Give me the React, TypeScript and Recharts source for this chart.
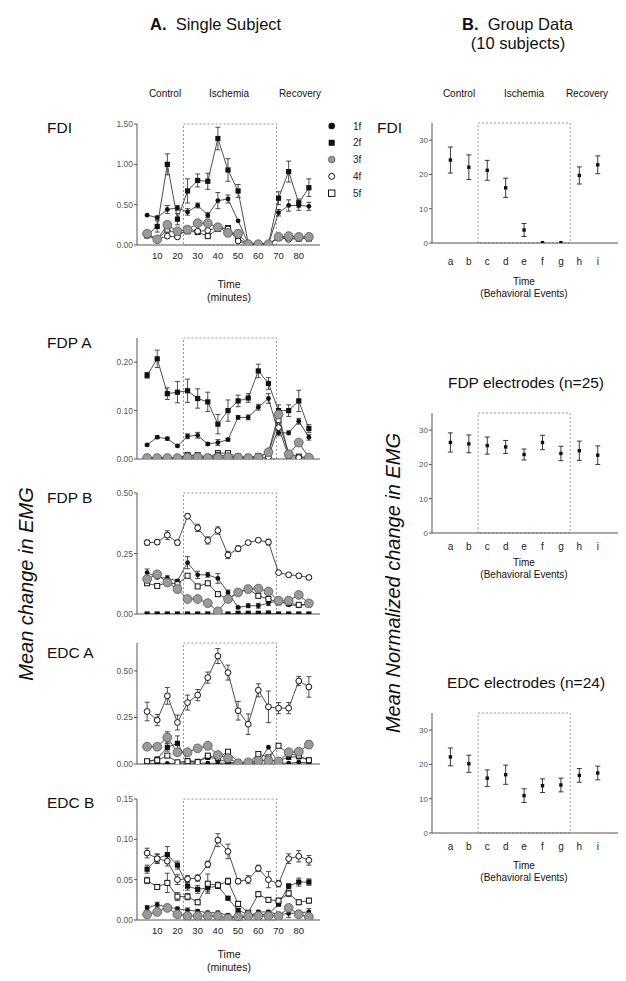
import { LineChart, Line, XAxis, YAxis, ReferenceArea, ErrorBar } from 'recharts'

const FONT = 'Arial, "Liberation Sans", Helvetica, sans-serif'

// time points (minutes) of the single subject panels
const TIMES = [5, 10, 15, 20, 25, 30, 35, 40, 45, 50, 55, 60, 65, 70, 75, 80, 85]
const TIME_TICKS = [10, 20, 30, 40, 50, 60, 70, 80]

// FDI
const fdi1 = [0.37, 0.34, 0.44, 0.46, 0.41, 0.49, 0.37, 0.55, 0.57, 0.3, 0.02, 0.01, 0.01, 0.4, 0.49, 0.49, 0.48]
const fdiErr1 = [0, 0.02, 0.05, 0.03, 0.04, 0.03, 0.03, 0.1, 0.05, 0, 0, 0, 0, 0.04, 0.07, 0.06, 0.05]
const fdi2 = [0.12, 0.23, 1.0, 0.32, 0.67, 0.8, 0.79, 1.32, 0.93, 0.67, 0.02, 0.01, 0.01, 0.58, 0.91, 0.52, 0.71]
const fdiErr2 = [0.02, 0.07, 0.13, 0.07, 0.15, 0.08, 0.1, 0.14, 0.14, 0.08, 0, 0, 0, 0.08, 0.13, 0.05, 0.11]
const fdi3 = [0.14, 0.07, 0.25, 0.17, 0.19, 0.27, 0.27, 0.22, 0.15, 0.14, 0.01, 0.01, 0.01, 0.1, 0.11, 0.1, 0.1]
const fdi4 = [0.12, 0.07, 0.11, 0.1, 0.2, 0.17, 0.18, 0.22, 0.2, 0.05, 0.01, 0.01, 0.01, 0.09, 0.07, 0.08, 0.09]
const fdi5 = [0.12, 0.07, 0.19, 0.14, 0.17, 0.16, 0.11, 0.2, 0.21, 0.08, 0.01, 0.01, 0.01, 0.09, 0.09, 0.08, 0.08]

// FDP A
const fdpA1 = [0.029, 0.045, 0.042, 0.027, 0.047, 0.049, 0.031, 0.034, 0.04, 0.086, 0.086, 0.107, 0.125, 0.054, 0.054, 0.078, 0.045]
const fdpAErr1 = [0.002, 0.003, 0.003, 0.002, 0.005, 0.006, 0.003, 0.006, 0.003, 0.004, 0.005, 0.006, 0.01, 0.006, 0.004, 0.006, 0.006]
const fdpA2 = [0.173, 0.207, 0.135, 0.138, 0.141, 0.125, 0.118, 0.072, 0.1, 0.12, 0.126, 0.182, 0.156, 0.1, 0.1, 0.12, 0.063]
const fdpAErr2 = [0.006, 0.018, 0.012, 0.022, 0.024, 0.02, 0.02, 0.02, 0.022, 0.012, 0.009, 0.014, 0.012, 0.012, 0.012, 0.022, 0.008]
const fdpA3 = [0.002, 0.002, 0.002, 0.002, 0.003, 0.004, 0.002, 0.003, 0.004, 0.003, 0.002, 0.003, 0.014, 0.092, 0.01, 0.034, 0.003]
const fdpA4 = [0.002, 0.002, 0.002, 0.002, 0.008, 0.005, 0.003, 0.008, 0.006, 0.004, 0.003, 0.003, 0.004, 0.065, 0.005, 0.003, 0.002]
const fdpA5 = [0.002, 0.002, 0.002, 0.002, 0.008, 0.008, 0.004, 0.012, 0.012, 0.005, 0.004, 0.006, 0.012, 0.08, 0.01, 0.005, 0.003]

// FDP B
const fdpB1 = [0.171, 0.151, 0.148, 0.137, 0.212, 0.162, 0.162, 0.147, 0.089, 0.027, 0.034, 0.034, 0.045, 0.055, 0.038, 0.034, 0.041]
const fdpBErr1 = [0.015, 0.005, 0.01, 0.005, 0.025, 0.015, 0.01, 0.02, 0.01, 0.005, 0.008, 0.01, 0.01, 0.01, 0.005, 0.005, 0.005]
const fdpB2 = [0, 0, 0, 0, 0, 0, 0, 0, 0, 0.003, 0.003, 0.003, 0.004, 0, 0, 0, 0]
const fdpB3 = [0.144, 0.164, 0.13, 0.103, 0.062, 0.062, 0.045, 0.011, 0.062, 0.089, 0.103, 0.105, 0.093, 0.055, 0.055, 0.079, 0.044]
const fdpB4 = [0.295, 0.297, 0.326, 0.295, 0.404, 0.356, 0.304, 0.345, 0.244, 0.27, 0.295, 0.305, 0.297, 0.171, 0.162, 0.158, 0.151]
const fdpBErr4 = [0.01, 0.01, 0.018, 0.01, 0.01, 0.015, 0.015, 0.015, 0.015, 0.012, 0.005, 0.005, 0.012, 0.005, 0.005, 0.005, 0.008]
const fdpB5 = [0.127, 0.116, 0.13, 0.123, 0.158, 0.114, 0.127, 0.082, 0.062, 0.089, 0.103, 0.075, 0.062, 0.048, 0.045, 0.038, 0.041]

// EDC A
const edcA1 = [0.004, 0.003, 0.003, 0.004, 0.006, 0.005, 0.004, 0.004, 0.005, 0.005, 0.004, 0.005, 0.09, 0.005, 0.004, 0.01, 0.005]
const edcA2 = [0.012, 0.027, 0.089, 0.111, 0.018, 0.014, 0.036, 0.027, 0.009, 0.004, 0.004, 0.018, 0.02, 0.018, 0.036, 0.039, 0.021]
const edcAErr2 = [0.005, 0.005, 0.02, 0.04, 0.005, 0.005, 0.01, 0.01, 0.005, 0, 0, 0.005, 0.01, 0.005, 0.01, 0.01, 0.005]
const edcA3 = [0.093, 0.093, 0.143, 0.063, 0.063, 0.084, 0.098, 0.048, 0.032, 0.004, 0.009, 0.018, 0.018, 0.014, 0.063, 0.066, 0.104]
const edcAErr3 = [0.005, 0.005, 0.03, 0.01, 0.005, 0.005, 0.01, 0.005, 0.005, 0, 0, 0, 0, 0, 0.01, 0.01, 0.02]
const edcA4 = [0.282, 0.236, 0.366, 0.223, 0.33, 0.37, 0.464, 0.58, 0.491, 0.286, 0.214, 0.396, 0.307, 0.3, 0.3, 0.446, 0.414]
const edcAErr4 = [0.05, 0.03, 0.045, 0.04, 0.04, 0.03, 0.03, 0.04, 0.04, 0.05, 0.055, 0.035, 0.085, 0.03, 0.03, 0.025, 0.055]
const edcA5 = [0.015, 0.02, 0.045, 0.009, 0.015, 0.01, 0.045, 0.032, 0.066, 0.01, 0.005, 0.054, 0.036, 0.098, 0.054, 0.045, 0.02]

// EDC B
const edcB1 = [0.015, 0.019, 0.016, 0.014, 0.012, 0.011, 0.009, 0.009, 0.006, 0.002, 0.004, 0.01, 0.01, 0.007, 0.008, 0.009, 0.01]
const edcBErr1 = [0.003, 0.003, 0.003, 0.002, 0.003, 0.002, 0.002, 0.002, 0.002, 0.002, 0.002, 0.002, 0.002, 0.002, 0.005, 0.003, 0.004]
const edcB2 = [0.063, 0.076, 0.081, 0.068, 0.042, 0.038, 0.04, 0.042, 0.027, 0.012, 0.007, 0.007, 0.007, 0.02, 0.042, 0.047, 0.047]
const edcBErr2 = [0.005, 0.005, 0.01, 0.005, 0.005, 0.005, 0.005, 0.003, 0.002, 0.002, 0.002, 0.002, 0.002, 0.003, 0.003, 0.005, 0.004]
const edcB3 = [0.007, 0.01, 0.015, 0.007, 0.005, 0.005, 0.005, 0.005, 0.002, 0.004, 0.005, 0.005, 0.005, 0.005, 0.015, 0.007, 0.004]
const edcB4 = [0.083, 0.076, 0.073, 0.05, 0.051, 0.052, 0.069, 0.099, 0.085, 0.048, 0.05, 0.064, 0.05, 0.045, 0.076, 0.079, 0.074]
const edcBErr4 = [0.006, 0.006, 0.006, 0.006, 0.004, 0.004, 0.004, 0.008, 0.009, 0.003, 0.005, 0.004, 0.01, 0.004, 0.006, 0.007, 0.006]
const edcB5 = [0.049, 0.041, 0.046, 0.029, 0.029, 0.022, 0.045, 0.043, 0.048, 0.02, 0.009, 0.032, 0.025, 0.024, 0.033, 0.022, 0.024]
const edcBErr5 = [0.004, 0.003, 0.012, 0.005, 0.004, 0.003, 0.012, 0.004, 0.004, 0.003, 0.002, 0.003, 0.003, 0.003, 0.004, 0.003, 0.003]

// group data (behavioral events a-i)
const EVENTS = ['a', 'b', 'c', 'd', 'e', 'f', 'g', 'h', 'i']
const fdiGroup = [24.2, 22.1, 21.2, 16.1, 3.8, 0.1, 0.1, 19.7, 22.8]
const fdiGroupErr = [3.8, 3.6, 2.9, 2.8, 1.9, 0, 0, 2.5, 2.6]
const fdpGroup = [26.4, 26.0, 25.5, 25.1, 22.9, 26.4, 23.2, 24.0, 22.7]
const fdpGroupErr = [2.8, 2.6, 2.5, 1.9, 1.6, 2.1, 2.1, 2.8, 2.7]
const edcGroup = [22.2, 20.2, 16.0, 17.0, 10.9, 13.8, 14.0, 16.8, 17.5]
const edcGroupErr = [2.6, 2.5, 2.4, 2.8, 2.0, 2.0, 2.0, 2.0, 2.0]

const LINE = '#3a3a3a'
const AXIS = '#555'

const Mark = ({ kind, cx, cy, legend }: any) => {
  if (cx == null || cy == null) return null
  if (legend) {
    if (kind === 'c') return <circle cx={cx} cy={cy} r={3.3} fill="#111" />
    if (kind === 's') return <rect x={cx - 3} y={cy - 3} width={6} height={6} fill="#111" />
    if (kind === 'g') return <circle cx={cx} cy={cy} r={3.3} fill="#9a9a9a" stroke="#555" strokeWidth={0.8} />
    if (kind === 'o') return <circle cx={cx} cy={cy} r={3} fill="#fff" stroke="#111" strokeWidth={1} />
    return <rect x={cx - 3.2} y={cy - 3.2} width={6.4} height={6.4} fill="#fff" stroke="#111" strokeWidth={1} />
  }
  if (kind === 'c') return <circle cx={cx} cy={cy} r={2.4} fill="#111" />
  if (kind === 's') return <rect x={cx - 2.6} y={cy - 2.6} width={5.2} height={5.2} fill="#111" />
  if (kind === 'g') return <circle cx={cx} cy={cy} r={4.4} fill="#9a9a9a" stroke="#555" strokeWidth={0.8} />
  if (kind === 'o') return <circle cx={cx} cy={cy} r={2.9} fill="#fff" stroke="#111" strokeWidth={1} />
  return <rect x={cx - 2.5} y={cy - 2.5} width={5} height={5} fill="#fff" stroke="#111" strokeWidth={1} />
}

const dotOf = (kind: string) => (p: any) => <Mark key={kind + p.index} kind={kind} cx={p.cx} cy={p.cy} />

type Series = { key: string; kind: string; vals: number[]; errs?: number[] }

function Panel({ top, ymax, yticks, series, showX }: { top: number; ymax: number; yticks: number[]; series: Series[]; showX?: boolean }) {
  const rows = TIMES.map((t, i) => {
    const r: any = { t }
    series.forEach((s) => {
      r[s.key] = s.vals[i]
      if (s.errs) r[s.key + 'e'] = s.errs[i]
    })
    return r
  })
  return (
    <div style={{ position: 'absolute', left: 97.2, top: top - 6 }}>
      <LineChart width={228} height={157} data={rows} margin={{ top: 6, right: 5, bottom: 0, left: 0 }}>
        <XAxis
          type="number"
          dataKey="t"
          domain={[0, 90.5]}
          allowDataOverflow
          ticks={TIME_TICKS}
          tickLine={false}
          tickSize={5}
          tickMargin={2}
          height={30}
          stroke={AXIS}
          tick={showX ? { fontSize: 9.5, fill: '#222', fontFamily: FONT } : false}
        />
        <YAxis
          type="number"
          domain={[0, ymax]}
          allowDataOverflow
          ticks={yticks}
          width={40}
          tickSize={3}
          tickMargin={1}
          stroke={AXIS}
          tickFormatter={(v: number) => v.toFixed(2)}
          tick={{ fontSize: 8.5, fill: '#555', fontFamily: FONT }}
        />
        <ReferenceArea x1={23} x2={69} y1={0} y2={ymax} fill="none" stroke="#8a8a8a" strokeDasharray="2 2" strokeWidth={0.9} />
        {series.map((s) => (
          <Line
            key={s.key}
            type="linear"
            dataKey={s.key}
            stroke={LINE}
            strokeWidth={0.9}
            dot={dotOf(s.kind)}
            activeDot={false}
            isAnimationActive={false}
          >
            {s.errs ? <ErrorBar dataKey={s.key + 'e'} width={2.5} stroke="#222" strokeWidth={0.8} direction="y" /> : null}
          </Line>
        ))}
      </LineChart>
    </div>
  )
}

const square = (p: any) =>
  p.cx == null ? null : <rect key={'q' + p.index} x={p.cx - 1.7} y={p.cy - 1.7} width={3.4} height={3.4} fill="#111" />

function GroupPanel({ top, vals, errs, letterGap }: { top: number; vals: number[]; errs: number[]; letterGap: number }) {
  const rows = EVENTS.map((c, i) => ({ x: i + 1, v: vals[i], e: errs[i] }))
  return (
    <div style={{ position: 'absolute', left: 396.7, top: top - 6 }}>
      <LineChart width={224} height={156} data={rows} margin={{ top: 6, right: 3, bottom: 0, left: 0 }}>
        <XAxis
          type="number"
          dataKey="x"
          domain={[0, 10.1]}
          allowDataOverflow
          ticks={[1, 2, 3, 4, 5, 6, 7, 8, 9]}
          tickFormatter={(v: number) => EVENTS[v - 1]}
          tickLine={false}
          tickSize={6}
          tickMargin={letterGap}
          height={30}
          stroke={AXIS}
          tick={{ fontSize: 10, fill: '#222', fontFamily: FONT }}
        />
        <YAxis
          type="number"
          domain={[0, 35]}
          allowDataOverflow
          ticks={[0, 10, 20, 30]}
          width={35}
          tickSize={3}
          tickMargin={1}
          stroke={AXIS}
          tick={{ fontSize: 8, fill: '#555', fontFamily: FONT }}
        />
        <ReferenceArea x1={2.5} x2={7.5} y1={0} y2={35} fill="none" stroke="#8a8a8a" strokeDasharray="2 2" strokeWidth={0.9} />
        <Line dataKey="v" stroke="none" dot={square} activeDot={false} isAnimationActive={false}>
          <ErrorBar dataKey="e" width={2.5} stroke="#222" strokeWidth={0.9} direction="y" />
        </Line>
      </LineChart>
    </div>
  )
}

const T = ({ x, y, size = 10, children, anchor = 'middle', style = {} }: any) => (
  <div
    style={{
      position: 'absolute',
      left: x,
      top: y,
      fontSize: size,
      whiteSpace: 'nowrap',
      lineHeight: 1,
      color: '#111',
      transform: anchor === 'middle' ? 'translate(-50%, -50%)' : 'translate(0, -50%)',
      ...style,
    }}
  >
    {children}
  </div>
)

const LEGEND = [
  { kind: 'c', label: '1f' },
  { kind: 's', label: '2f' },
  { kind: 'g', label: '3f' },
  { kind: 'o', label: '4f' },
  { kind: 'q', label: '5f' },
]

const ROT = { transform: 'translate(-50%, -50%) rotate(-90deg)', fontStyle: 'italic' }

export default function App() {
  return (
    <div style={{ position: 'absolute', left: 0, top: 0, width: 626, height: 981, background: '#fff', fontFamily: FONT }}>
      <T x={150} y={24} size={16.5} anchor="start">
        <b>A.</b>&nbsp; Single Subject
      </T>
      <T x={462} y={24} size={16.5} anchor="start">
        <b>B.</b>&nbsp; Group Data
      </T>
      <T x={518} y={43} size={16.5}>(10 subjects)</T>

      <T x={165} y={94}>Control</T>
      <T x={229} y={94}>Ischemia</T>
      <T x={300} y={94}>Recovery</T>
      <T x={459} y={94}>Control</T>
      <T x={524} y={94}>Ischemia</T>
      <T x={587} y={94}>Recovery</T>

      <T x={47} y={128} size={15.5} anchor="start">FDI</T>
      <T x={47} y={343} size={15.5} anchor="start">FDP A</T>
      <T x={47} y={498} size={15.5} anchor="start">FDP B</T>
      <T x={47} y={653} size={15.5} anchor="start">EDC A</T>
      <T x={47} y={803} size={15.5} anchor="start">EDC B</T>
      <T x={377} y={128} size={15.5} anchor="start">FDI</T>
      <T x={526} y={383} size={15.5}>FDP electrodes (n=25)</T>
      <T x={526} y={683} size={15.5}>EDC electrodes (n=24)</T>

      <T x={26} y={584} size={20} style={ROT}>
        Mean change in EMG
      </T>
      <T x={393} y={583} size={20} style={ROT}>
        Mean Normalized change in EMG
      </T>

      <Panel
        top={124}
        ymax={1.5}
        yticks={[0, 0.5, 1, 1.5]}
        showX
        series={[
          { key: 'f1', kind: 'c', vals: fdi1, errs: fdiErr1 },
          { key: 'f2', kind: 's', vals: fdi2, errs: fdiErr2 },
          { key: 'f5', kind: 'q', vals: fdi5 },
          { key: 'f4', kind: 'o', vals: fdi4 },
          { key: 'f3', kind: 'g', vals: fdi3 },
        ]}
      />
      <Panel
        top={338}
        ymax={0.25}
        yticks={[0, 0.1, 0.2]}
        series={[
          { key: 'f1', kind: 'c', vals: fdpA1, errs: fdpAErr1 },
          { key: 'f2', kind: 's', vals: fdpA2, errs: fdpAErr2 },
          { key: 'f5', kind: 'q', vals: fdpA5 },
          { key: 'f4', kind: 'o', vals: fdpA4 },
          { key: 'f3', kind: 'g', vals: fdpA3 },
        ]}
      />
      <Panel
        top={493}
        ymax={0.5}
        yticks={[0, 0.25, 0.5]}
        series={[
          { key: 'f2', kind: 's', vals: fdpB2 },
          { key: 'f1', kind: 'c', vals: fdpB1, errs: fdpBErr1 },
          { key: 'f5', kind: 'q', vals: fdpB5 },
          { key: 'f4', kind: 'o', vals: fdpB4, errs: fdpBErr4 },
          { key: 'f3', kind: 'g', vals: fdpB3 },
        ]}
      />
      <Panel
        top={642.7}
        ymax={0.65}
        yticks={[0, 0.25, 0.5]}
        series={[
          { key: 'f1', kind: 'c', vals: edcA1 },
          { key: 'f2', kind: 's', vals: edcA2, errs: edcAErr2 },
          { key: 'f5', kind: 'q', vals: edcA5 },
          { key: 'f4', kind: 'o', vals: edcA4, errs: edcAErr4 },
          { key: 'f3', kind: 'g', vals: edcA3, errs: edcAErr3 },
        ]}
      />
      <Panel
        top={798.7}
        ymax={0.15}
        yticks={[0, 0.05, 0.1, 0.15]}
        showX
        series={[
          { key: 'f1', kind: 'c', vals: edcB1, errs: edcBErr1 },
          { key: 'f2', kind: 's', vals: edcB2, errs: edcBErr2 },
          { key: 'f5', kind: 'q', vals: edcB5, errs: edcBErr5 },
          { key: 'f4', kind: 'o', vals: edcB4, errs: edcBErr4 },
          { key: 'f3', kind: 'g', vals: edcB3 },
        ]}
      />

      <T x={229} y={284} size={10.5}>Time</T>
      <T x={229} y={297} size={10.5}>(minutes)</T>
      <T x={229} y={954} size={10.5}>Time</T>
      <T x={229} y={967} size={10.5}>(minutes)</T>

      <svg style={{ position: 'absolute', left: 320, top: 115 }} width={60} height={90}>
        {LEGEND.map((l, i) => (
          <g key={l.label}>
            <Mark kind={l.kind} cx={11.7} cy={11 + i * 16.8} legend />
            <text x={33} y={11 + i * 16.8} dy="0.35em" fontSize={10} fontFamily={FONT} fill="#222">
              {l.label}
            </text>
          </g>
        ))}
      </svg>

      <GroupPanel top={122.7} vals={fdiGroup} errs={fdiGroupErr} letterGap={9} />
      <GroupPanel top={413.3} vals={fdpGroup} errs={fdpGroupErr} letterGap={4} />
      <GroupPanel top={712.7} vals={edcGroup} errs={edcGroupErr} letterGap={4} />

      <T x={524} y={282} size={10}>Time</T>
      <T x={524} y={294} size={10}>(Behavioral Events)</T>
      <T x={524} y={563} size={10}>Time</T>
      <T x={524} y={575} size={10}>(Behavioral Events)</T>
      <T x={524} y={866} size={10}>Time</T>
      <T x={524} y={878} size={10}>(Behavioral Events)</T>
    </div>
  )
}
